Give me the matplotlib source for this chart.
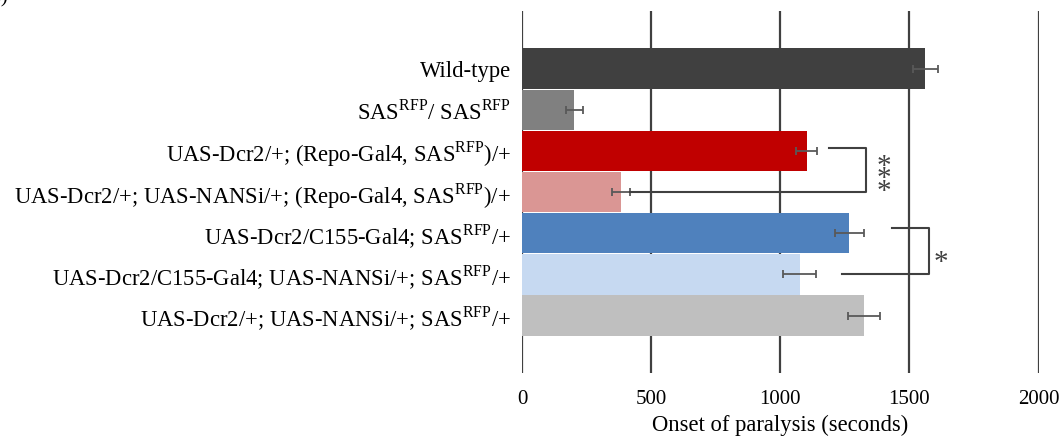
import matplotlib
matplotlib.use('Agg')
import matplotlib.pyplot as plt
import numpy as np

plt.rcParams['font.family'] = ['Liberation Serif', 'DejaVu Serif']
plt.rcParams['mathtext.fontset'] = 'custom'
plt.rcParams['mathtext.rm'] = 'Liberation Serif'

# data
genotypes = [
    'Wild-type',
    'SAS$^{\\mathrm{RFP}}$/ SAS$^{\\mathrm{RFP}}$',
    'UAS-Dcr2/+; (Repo-Gal4, SAS$^{\\mathrm{RFP}}$)/+',
    'UAS-Dcr2/+; UAS-NANSi/+; (Repo-Gal4, SAS$^{\\mathrm{RFP}}$)/+',
    'UAS-Dcr2/C155-Gal4; SAS$^{\\mathrm{RFP}}$/+',
    'UAS-Dcr2/C155-Gal4; UAS-NANSi/+; SAS$^{\\mathrm{RFP}}$/+',
    'UAS-Dcr2/+; UAS-NANSi/+; SAS$^{\\mathrm{RFP}}$/+',
]
onset = [1562, 203, 1102, 382, 1267, 1075, 1326]
sem = [50, 34, 41, 35, 57, 63, 62]
xticks = [0, 500, 1000, 1500, 2000]

colors = ['#404040', '#808080', '#C00000', '#DA9694', '#4F81BD', '#C6D9F1', '#BFBFBF']
line_col = '#404040'

fig = plt.figure(figsize=(10.64, 4.4), dpi=100)
ax = fig.add_axes([0.4906, 0.152, 0.4855, 0.823])

y = np.arange(len(genotypes))
ax.barh(y, onset, height=0.98, color=colors, zorder=2)
ax.errorbar(onset, y, xerr=sem, fmt='none', ecolor='#595959', elinewidth=1.3,
            capsize=3, capthick=1.3, zorder=3)

ax.set_xlim(0, 2000)
ax.set_ylim(7.4, -1.4)
ax.set_xticks(xticks)
ax.set_xticklabels([str(t) for t in xticks], fontsize=15)
ax.set_yticks(y)
ax.set_yticklabels(genotypes, fontsize=16.3)
ax.tick_params(axis='both', length=0)
ax.tick_params(axis='y', pad=8)
ax.tick_params(axis='x', pad=12)
for s in ax.spines.values():
    s.set_visible(False)
for t in xticks:
    ax.axvline(t, color=line_col, lw=1.6, zorder=1)
ax.set_xlabel('Onset of paralysis (seconds)', fontsize=16.3, labelpad=4)

# significance brackets
top1 = onset[2] + sem[2] + 45
right1 = 1331
ax.plot([top1, right1, right1, onset[3] + sem[3]], [1.92, 1.92, 3.0, 3.0],
        color=line_col, lw=1.5, zorder=4, clip_on=False)
ax.text(right1 + 70, 2.53 + 0.16, '*\n*\n*', ha='center', va='center',
        fontsize=21, linespacing=0.33, color=line_col)

top2 = 1432
right2 = 1576
ax.plot([top2, right2, right2, 1240], [3.88, 3.88, 5.0, 5.0],
        color=line_col, lw=1.5, zorder=4, clip_on=False)
ax.text(right2 + 45, 4.56 + 0.16, '*', ha='center', va='center', fontsize=21,
        color=line_col)

fig.text(-0.012, 1.005, 'B)', fontsize=15, ha='left', va='center')

fig.savefig('out.png', dpi=100)
